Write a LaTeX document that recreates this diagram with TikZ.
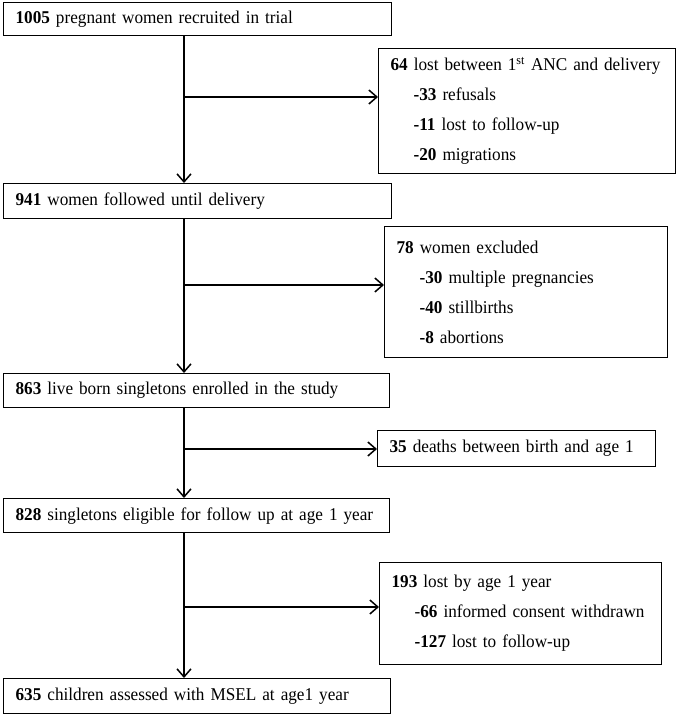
\documentclass[tikz,border=0pt]{standalone}
\usepackage{fontspec}
\setmainfont{Liberation Serif}[FakeStretch=0.955]
\usetikzlibrary{arrows.meta}
\begin{document}
\begin{tikzpicture}[x=1pt,y=-1pt,
  box/.style={draw, line width=1.2pt, anchor=north west, inner xsep=12pt, inner ysep=0pt,
    align=left, font=\fontsize{18}{30}\selectfont},
  arr/.style={line width=1.5pt, -{Straight Barb[length=8pt,width=14pt,line width=1.5pt]}}]
\useasboundingbox (0,0) rectangle (676,714);
\coordinate (x) at (184,0);
\node[box, text width=364pt, minimum height=33pt] (a) at (3,2) {\textbf{1005} pregnant women recruited in trial};
\node[box, text width=273pt, minimum height=125pt] (b) at (378,48) {\textbf{64} lost between 1\textsuperscript{st} ANC and delivery\\
\hspace*{23pt}\textbf{-33} refusals\\
\hspace*{23pt}\textbf{-11} lost to follow-up\\
\hspace*{23pt}\textbf{-20} migrations};
\node[box, text width=364pt, minimum height=35pt] (c) at (3,183) {\textbf{941} women followed until delivery};
\node[box, text width=259pt, minimum height=131pt] (d) at (384,226) {\textbf{78} women excluded\\
\hspace*{23pt}\textbf{-30} multiple pregnancies\\
\hspace*{23pt}\textbf{-40} stillbirths\\
\hspace*{23pt}\textbf{-8} abortions};
\node[box, text width=362pt, minimum height=34pt] (e) at (3,373) {\textbf{863} live born singletons enrolled in the study};
\node[box, text width=254pt, minimum height=36pt] (f) at (377,430) {\textbf{35} deaths between birth and age 1};
\node[box, text width=362pt, minimum height=34pt] (g) at (3,498) {\textbf{828} singletons eligible for follow up at age 1 year};
\node[box, text width=258pt, minimum height=102pt] (h) at (379,562) {\textbf{193} lost by age 1 year\\
\hspace*{23pt}-\textbf{66} informed consent withdrawn\\
\hspace*{23pt}\textbf{-127} lost to follow-up};
\node[box, text width=363pt, minimum height=35pt] (i) at (3,678) {\textbf{635} children assessed with MSEL at age1 year};
\draw[arr] (a.south -| x) -- (c.north -| x);
\draw[arr] (c.south -| x) -- (e.north -| x);
\draw[arr] (e.south -| x) -- (g.north -| x);
\draw[arr] (g.south -| x) -- (i.north -| x);
\coordinate (p1) at (184,97);
\coordinate (p2) at (184,285);
\coordinate (p3) at (184,449);
\coordinate (p4) at (184,607);
\draw[arr] (p1) -- (p1 -| b.west);
\draw[arr] (p2) -- (p2 -| d.west);
\draw[arr] (p3) -- (p3 -| f.west);
\draw[arr] (p4) -- (p4 -| h.west);
\end{tikzpicture}
\end{document}
